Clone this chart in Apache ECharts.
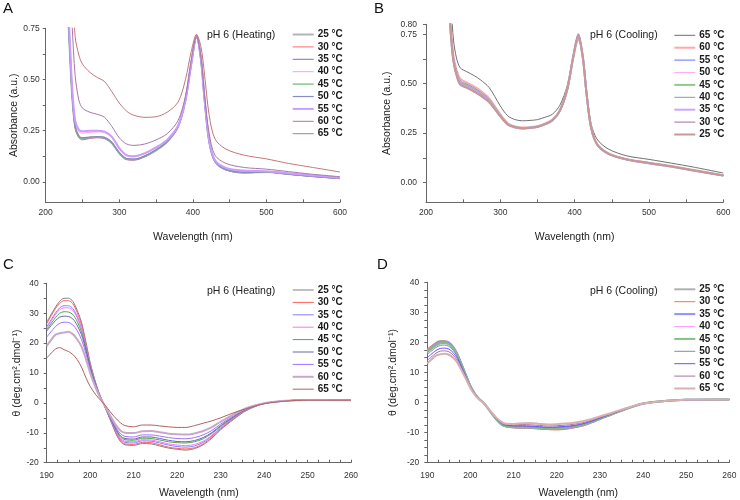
<!DOCTYPE html>
<html><head><meta charset="utf-8">
<script src="https://cdn.jsdelivr.net/npm/echarts@6/dist/echarts.min.js"></script>
<style>html,body{margin:0;padding:0;background:#fff}#c{width:740px;height:500px}</style>
</head><body><div id="c"></div>
<script>
// ---------- DATA ----------
const heatTemps = ['25 °C','30 °C','35 °C','40 °C','45 °C','50 °C','55 °C','60 °C','65 °C'];
const coolTemps = ['65 °C','60 °C','55 °C','50 °C','45 °C','40 °C','35 °C','30 °C','25 °C'];
const absXTicks = [200, 300, 400, 500, 600];
const absYTicksA = [0, 0.25, 0.5, 0.75];
const absYTicksB = [0, 0.25, 0.5, 0.75, 0.8];
const cdXTicks = [190, 200, 210, 220, 230, 240, 250, 260];
const cdYTicks = [-20, -10, 0, 10, 20, 30, 40];

// Panel A: absorbance, heating
const absHeatX = [230, 233, 236, 240, 245, 250, 260, 270, 280, 290, 300, 310, 320, 335, 350, 365, 380, 390, 398, 405, 411, 416, 422, 430, 445, 470, 500, 530, 560, 600];
const absHeat25 = [0.85, 0.62, 0.42, 0.27, 0.222, 0.212, 0.216, 0.218, 0.214, 0.19, 0.14, 0.11, 0.108, 0.125, 0.155, 0.195, 0.27, 0.40, 0.58, 0.715, 0.60, 0.40, 0.20, 0.10, 0.06, 0.045, 0.048, 0.038, 0.028, 0.017];
const absHeat30 = [0.85, 0.62, 0.42, 0.265, 0.215, 0.205, 0.212, 0.216, 0.212, 0.188, 0.139, 0.109, 0.107, 0.124, 0.154, 0.194, 0.27, 0.40, 0.58, 0.72, 0.60, 0.40, 0.20, 0.10, 0.06, 0.045, 0.048, 0.038, 0.028, 0.017];
const absHeat35 = [0.85, 0.62, 0.42, 0.268, 0.22, 0.21, 0.215, 0.217, 0.213, 0.189, 0.139, 0.11, 0.108, 0.124, 0.155, 0.195, 0.27, 0.40, 0.58, 0.705, 0.595, 0.40, 0.20, 0.10, 0.058, 0.044, 0.047, 0.037, 0.027, 0.016];
const absHeat40 = [0.88, 0.65, 0.45, 0.29, 0.245, 0.238, 0.242, 0.244, 0.24, 0.215, 0.16, 0.127, 0.122, 0.138, 0.166, 0.203, 0.275, 0.40, 0.58, 0.71, 0.60, 0.40, 0.205, 0.105, 0.065, 0.052, 0.05, 0.04, 0.03, 0.019];
const absHeat45 = [0.85, 0.62, 0.42, 0.27, 0.222, 0.213, 0.217, 0.219, 0.215, 0.19, 0.141, 0.111, 0.109, 0.126, 0.152, 0.195, 0.27, 0.40, 0.58, 0.71, 0.60, 0.40, 0.20, 0.10, 0.06, 0.046, 0.048, 0.038, 0.028, 0.017];
const absHeat50 = [0.86, 0.63, 0.43, 0.272, 0.224, 0.215, 0.219, 0.221, 0.217, 0.192, 0.143, 0.113, 0.111, 0.127, 0.157, 0.197, 0.272, 0.40, 0.58, 0.71, 0.60, 0.40, 0.20, 0.10, 0.06, 0.046, 0.048, 0.038, 0.028, 0.017];
const absHeat55 = [0.9, 0.68, 0.46, 0.30, 0.255, 0.247, 0.249, 0.25, 0.245, 0.22, 0.165, 0.13, 0.125, 0.14, 0.168, 0.205, 0.275, 0.40, 0.58, 0.71, 0.60, 0.40, 0.205, 0.106, 0.068, 0.055, 0.052, 0.042, 0.032, 0.02];
const absHeat60 = [1.2, 1.0, 0.76, 0.52, 0.40, 0.36, 0.34, 0.33, 0.315, 0.27, 0.215, 0.185, 0.178, 0.185, 0.205, 0.235, 0.30, 0.42, 0.60, 0.71, 0.61, 0.42, 0.24, 0.13, 0.09, 0.07, 0.062, 0.05, 0.038, 0.025];
const absHeat65 = [1.5, 1.3, 1.0, 0.71, 0.62, 0.575, 0.535, 0.51, 0.49, 0.44, 0.385, 0.345, 0.325, 0.315, 0.318, 0.34, 0.39, 0.50, 0.64, 0.72, 0.66, 0.52, 0.33, 0.21, 0.16, 0.13, 0.112, 0.09, 0.072, 0.048];

// Panel B: absorbance, cooling
const absCoolX = [232, 234, 237, 241, 246, 255, 265, 273, 285, 300, 310, 320, 330, 340, 350, 360, 370, 380, 390, 398, 405, 411, 416, 422, 430, 445, 470, 500, 530, 560, 600];
const absCool65 = [1.0, 0.88, 0.72, 0.63, 0.58, 0.56, 0.54, 0.52, 0.48, 0.387, 0.337, 0.318, 0.312, 0.314, 0.318, 0.33, 0.345, 0.39, 0.49, 0.64, 0.72, 0.64, 0.47, 0.30, 0.22, 0.17, 0.135, 0.117, 0.098, 0.078, 0.048];
const absCool60 = [0.86, 0.75, 0.64, 0.57, 0.525, 0.505, 0.485, 0.465, 0.425, 0.345, 0.3, 0.284, 0.278, 0.28, 0.285, 0.298, 0.318, 0.365, 0.47, 0.63, 0.725, 0.63, 0.45, 0.28, 0.195, 0.148, 0.118, 0.1, 0.083, 0.063, 0.037];
const absCool55 = [0.85, 0.74, 0.63, 0.565, 0.515, 0.497, 0.477, 0.457, 0.42, 0.342, 0.298, 0.282, 0.276, 0.279, 0.284, 0.297, 0.317, 0.364, 0.47, 0.63, 0.73, 0.63, 0.45, 0.28, 0.195, 0.147, 0.117, 0.099, 0.082, 0.062, 0.036];
const absCool50 = [0.85, 0.74, 0.63, 0.56, 0.512, 0.493, 0.474, 0.454, 0.418, 0.34, 0.297, 0.282, 0.276, 0.279, 0.284, 0.297, 0.317, 0.364, 0.47, 0.63, 0.735, 0.63, 0.45, 0.28, 0.195, 0.147, 0.117, 0.099, 0.082, 0.062, 0.036];
const absCool45 = [0.84, 0.73, 0.62, 0.555, 0.508, 0.49, 0.47, 0.45, 0.415, 0.338, 0.296, 0.281, 0.275, 0.278, 0.283, 0.296, 0.316, 0.363, 0.47, 0.63, 0.74, 0.63, 0.45, 0.28, 0.194, 0.147, 0.117, 0.099, 0.082, 0.062, 0.036];
const absCool40 = [0.84, 0.73, 0.62, 0.552, 0.505, 0.487, 0.467, 0.448, 0.413, 0.337, 0.295, 0.28, 0.275, 0.278, 0.283, 0.296, 0.316, 0.363, 0.47, 0.63, 0.74, 0.63, 0.45, 0.28, 0.194, 0.147, 0.117, 0.099, 0.082, 0.062, 0.036];
const absCool35 = [0.84, 0.72, 0.615, 0.548, 0.5, 0.483, 0.463, 0.445, 0.41, 0.336, 0.294, 0.279, 0.274, 0.277, 0.282, 0.295, 0.315, 0.362, 0.47, 0.635, 0.745, 0.635, 0.45, 0.28, 0.194, 0.146, 0.116, 0.098, 0.081, 0.061, 0.035];
const absCool30 = [0.83, 0.72, 0.61, 0.545, 0.497, 0.48, 0.46, 0.443, 0.408, 0.335, 0.294, 0.279, 0.274, 0.277, 0.282, 0.295, 0.315, 0.362, 0.47, 0.635, 0.75, 0.635, 0.45, 0.28, 0.194, 0.146, 0.116, 0.098, 0.081, 0.061, 0.035];
const absCool25 = [0.83, 0.72, 0.61, 0.543, 0.495, 0.478, 0.458, 0.44, 0.406, 0.334, 0.293, 0.278, 0.273, 0.276, 0.281, 0.294, 0.314, 0.361, 0.47, 0.635, 0.75, 0.635, 0.45, 0.28, 0.194, 0.146, 0.116, 0.098, 0.081, 0.061, 0.035];

// Panels C & D: circular dichroism
const cdX = [190, 192, 193, 194, 195, 196, 197, 198, 199, 200, 201, 202, 203, 204, 205, 206, 207, 208, 210, 212, 214, 216, 218, 220, 222, 224, 226, 228, 230, 233, 236, 240, 245, 250, 260];
const cdHeat25 = [27, 32, 34, 35, 35, 34, 31, 27, 20.5, 13.5, 8, 3.5, 0, -3.5, -7, -10.5, -13, -14, -14.2, -13.6, -13.7, -14.4, -15.1, -15.5, -15.8, -15.3, -14, -11.8, -9, -5.5, -2.5, -0.2, 0.7, 1, 0.9];
const cdHeat30 = [26.5, 31.5, 33.3, 34.2, 34.2, 33.2, 30.3, 26.3, 20, 13.2, 7.8, 3.4, 0, -3.4, -6.8, -10.2, -12.7, -13.7, -13.9, -13.2, -13.3, -14, -14.8, -15.2, -15.4, -15, -13.7, -11.5, -8.8, -5.3, -2.4, -0.2, 0.7, 1, 0.9];
const cdHeat35 = [25.5, 30, 31.8, 32.5, 32.5, 31.6, 29, 25.2, 19.3, 12.8, 7.6, 3.3, 0, -3.3, -6.6, -9.9, -12.3, -13.2, -13.4, -12.7, -12.8, -13.4, -14.1, -14.6, -14.8, -14.4, -13.2, -11.1, -8.5, -5.1, -2.3, -0.2, 0.7, 1, 0.9];
const cdHeat40 = [25, 29.5, 31.2, 31.8, 31.8, 31, 28.5, 24.8, 19, 12.6, 7.5, 3.2, 0, -3.2, -6.4, -9.6, -12, -12.8, -13, -12.3, -12.4, -13, -13.7, -14.1, -14.3, -13.9, -12.8, -10.8, -8.3, -5, -2.2, -0.2, 0.7, 1, 0.9];
const cdHeat45 = [24.5, 28.5, 30, 30.5, 30.4, 29.6, 27.3, 23.8, 18.4, 12.2, 7.3, 3.1, 0, -3.1, -6.2, -9.2, -11.5, -12.3, -12.5, -11.8, -11.9, -12.4, -13, -13.3, -13.4, -13, -12, -10.2, -7.9, -4.8, -2.1, -0.2, 0.7, 1, 0.9];
const cdHeat50 = [24, 27.5, 28.7, 29, 28.9, 28.1, 26, 22.8, 17.7, 11.8, 7.1, 3, 0, -3, -6, -8.9, -11.1, -11.9, -12.1, -11.4, -11.4, -11.9, -12.5, -12.9, -13, -12.6, -11.6, -9.9, -7.6, -4.6, -2, -0.2, 0.7, 1, 0.9];
const cdHeat55 = [22, 25.5, 26.6, 27, 26.9, 26.1, 24.2, 21.2, 16.6, 11.1, 6.7, 2.9, 0, -2.9, -5.7, -8.4, -10.4, -11.2, -11.4, -10.7, -10.7, -11.1, -11.6, -11.9, -12, -11.6, -10.7, -9.2, -7.1, -4.3, -1.9, -0.2, 0.7, 1, 0.9];
const cdHeat60 = [19, 22.8, 23.3, 23.5, 23.8, 23, 21.3, 18.8, 14.8, 10, 6, 2.6, 0, -2.6, -5.2, -7.6, -9.3, -10, -10.1, -9.5, -9.4, -9.8, -10.3, -10.5, -10.6, -10.2, -9.4, -8.1, -6.3, -3.8, -1.7, -0.1, 0.7, 1, 0.9];
const cdHeat65 = [15, 18, 18.5, 17.8, 17.2, 16.2, 14.5, 12, 8.5, 5.5, 3.3, 1.5, 0, -1.8, -3.7, -5.3, -6.7, -7.6, -8, -7.4, -7.4, -7.7, -8, -8.2, -8.2, -7.6, -6.8, -6, -5, -3.3, -1.9, -0.3, 0.6, 0.9, 0.9];

const cdCool25 = [17.5, 19.8, 20.5, 20.5, 20, 18.5, 16, 12.5, 9, 5.5, 3, 1.2, 0, -1.8, -3.8, -5.6, -7, -7.8, -8.2, -8.3, -8.4, -8.6, -8.8, -8.8, -8.6, -8.2, -7.6, -6.6, -5.5, -3.8, -2.2, -0.4, 0.5, 0.9, 1];
const cdCool30 = [17.8, 19.9, 20.4, 20.4, 20, 18.6, 16.2, 12.7, 9.1, 5.6, 3, 1.2, 0, -1.9, -3.9, -5.8, -7.2, -8, -8.4, -8.5, -8.6, -8.8, -9, -9.1, -8.9, -8.4, -7.8, -6.8, -5.6, -3.9, -2.2, -0.4, 0.5, 0.9, 1];
const cdCool35 = [17, 19.4, 20.1, 20.2, 19.8, 18.4, 16, 12.5, 9, 5.5, 3, 1.2, 0, -1.8, -3.8, -5.6, -7, -7.8, -8.1, -8.2, -8.3, -8.5, -8.7, -8.7, -8.5, -8.1, -7.5, -6.5, -5.4, -3.7, -2.1, -0.4, 0.5, 0.9, 1];
const cdCool40 = [16.5, 18.8, 19.5, 19.6, 19.2, 17.9, 15.6, 12.2, 8.8, 5.4, 2.9, 1.2, 0, -1.8, -3.7, -5.5, -6.8, -7.6, -7.9, -7.9, -8, -8.2, -8.4, -8.4, -8.2, -7.9, -7.3, -6.4, -5.3, -3.7, -2.1, -0.4, 0.5, 0.9, 1];
const cdCool45 = [16.8, 19, 19.7, 19.8, 19.4, 18, 15.7, 12.3, 8.8, 5.4, 2.9, 1.2, 0, -1.8, -3.8, -5.6, -7, -7.8, -8.2, -8.2, -8.3, -8.5, -8.7, -8.6, -8.4, -8, -7.4, -6.5, -5.4, -3.7, -2.1, -0.3, 0.5, 0.9, 1];
const cdCool50 = [16, 18.3, 19, 19.1, 18.7, 17.4, 15.2, 11.9, 8.6, 5.3, 2.9, 1.1, 0, -1.8, -3.7, -5.4, -6.8, -7.6, -7.9, -7.9, -8, -8.2, -8.4, -8.3, -8.1, -7.8, -7.2, -6.3, -5.2, -3.6, -2.1, -0.3, 0.5, 0.9, 1];
const cdCool55 = [15, 17.3, 18, 18.1, 17.8, 16.6, 14.6, 11.5, 8.3, 5.1, 2.8, 1.1, 0, -1.8, -3.6, -5.3, -6.6, -7.4, -7.7, -7.7, -7.8, -8, -8.2, -8.1, -7.9, -7.6, -7, -6.2, -5.1, -3.6, -2, -0.3, 0.5, 0.9, 1];
const cdCool60 = [14, 16.4, 17.1, 17.2, 16.9, 15.8, 13.9, 11, 8, 5, 2.7, 1.1, 0, -1.7, -3.5, -5.1, -6.4, -7.2, -7.4, -7.3, -7.4, -7.6, -7.8, -7.7, -7.5, -7.2, -6.7, -5.9, -4.9, -3.5, -2, -0.3, 0.5, 0.9, 1];
const cdCool65 = [13, 15.6, 16.1, 16.2, 15.9, 14.9, 13.2, 10.5, 7.7, 4.8, 2.6, 1, 0, -1.7, -3.4, -5, -6.2, -7, -7.1, -6.9, -6.8, -7.1, -7.3, -7.2, -7, -6.7, -6.2, -5.5, -4.6, -3.3, -1.9, -0.3, 0.5, 0.9, 1];

// ---------- STYLES ----------
const styleA = [['#b4b4b4',2],['#ff6a6a',1],['#6a6aff',1],['#ff9cf0',1],['#8cc48c',1.5],['#8a8ac0',1.2],['#cc9cff',2],['#a878a8',1],['#c07878',1]];
const styleB = [['#707070',1],['#ffa8a8',2],['#6a6aff',1],['#ffb0f0',1],['#90c890',2],['#9090c0',1],['#c8a8ff',2],['#a070a0',1],['#c89898',2]];
const styleC = [['#808080',1],['#ff6060',1],['#8080ff',1],['#ff70ff',1],['#50a850',1],['#6868a8',1],['#a070ff',1],['#c8a8c8',2],['#b06060',1]];
const styleD = [['#b0b0b0',2],['#ff6868',1],['#9090ff',2],['#ffa0ff',1],['#80c080',2],['#8888b8',1],['#6a50ff',1],['#a870a8',1],['#d8b0b0',2]];

const panels = [
  {key:'A', x: absHeatX, names: heatTemps, ys:[absHeat25,absHeat30,absHeat35,absHeat40,absHeat45,absHeat50,absHeat55,absHeat60,absHeat65], style: styleA},
  {key:'B', x: absCoolX, names: coolTemps, ys:[absCool65,absCool60,absCool55,absCool50,absCool45,absCool40,absCool35,absCool30,absCool25], style: styleB},
  {key:'C', x: cdX, names: heatTemps, ys:[cdHeat25,cdHeat30,cdHeat35,cdHeat40,cdHeat45,cdHeat50,cdHeat55,cdHeat60,cdHeat65], style: styleC},
  {key:'D', x: cdX, names: heatTemps, ys:[cdCool25,cdCool30,cdCool35,cdCool40,cdCool45,cdCool50,cdCool55,cdCool60,cdCool65], style: styleD}
];

// ---------- LAYOUT ----------
const FONT = '"Liberation Sans", Arial, sans-serif';
const grids = [
  {left: 45.7, top: 28.3, right: 400, bottom: 297.7},
  {left: 426, top: 24.3, right: 16.7, bottom: 297.7},
  {left: 46.7, top: 283.3, right: 389, bottom: 37.3},
  {left: 427.3, top: 282.3, right: 10.7, bottom: 37.3}
];
function range(a, b, s){ const r=[]; for(let v=a; v<=b+1e-9; v+=s) r.push(+v.toFixed(4)); return r; }
const xTickSets = [range(200,600,50), range(200,600,50), range(190,260,2.5), range(190,260,2.5)];
const yTickSets = [range(0,0.75,0.125), range(0,0.75,0.125).concat([0.8]), range(-20,40,5), range(-20,40,2.5)];
const xLabelSets = [absXTicks, absXTicks, cdXTicks, cdXTicks];
const yLabelSets = [absYTicksA, absYTicksB, cdYTicks, cdYTicks];
const xMinMax = [[200,600],[200,600],[190,260],[190,260]];
const yMinMax = [[-0.1,0.75],[-0.1,0.8],[-20,40],[-20,40]];
const yNames = ['Absorbance (a.u.)','Absorbance (a.u.)','θ (deg.cm².dmol⁻¹)','θ (deg.cm².dmol⁻¹)'];
const yNameGaps = [23, 33, 22, 29];
const yLabelMargins = [6, 9, 8, 8];
const xNameGaps = [29, 29, 25, 25];
const xLabelMargins = [6, 6, 8, 8];
const axisColor = '#666';

const xAxis = [], yAxis = [], series = [], legend = [];
panels.forEach((p, i) => {
  xAxis.push({
    type:'value', gridIndex:i, min:xMinMax[i][0], max:xMinMax[i][1],
    name:'Wavelength (nm)', nameLocation:'middle', nameGap:xNameGaps[i],
    nameTextStyle:{fontFamily:FONT, fontSize:10.5, color:'#222'},
    axisLine:{show:true, onZero:false, lineStyle:{color:axisColor, width:1}},
    axisTick:{show:true, inside:true, length:3, customValues:xTickSets[i], lineStyle:{color:axisColor}},
    axisLabel:{show:true, customValues:xLabelSets[i], margin:xLabelMargins[i], fontFamily:FONT, fontSize:8.5, color:'#333'},
    splitLine:{show:false}
  });
  const dec = i < 2;
  yAxis.push({
    type:'value', gridIndex:i, min:yMinMax[i][0], max:yMinMax[i][1],
    name:yNames[i], nameLocation:'middle', nameGap:yNameGaps[i], nameRotate:90,
    nameTextStyle:{fontFamily:FONT, fontSize:10.5, color:'#222'},
    axisLine:{show:true, onZero:false, lineStyle:{color:axisColor, width:1}},
    axisTick:{show:true, inside:false, length:3, customValues:yTickSets[i], lineStyle:{color:axisColor}},
    axisLabel:{show:true, customValues:yLabelSets[i], margin:yLabelMargins[i], fontFamily:FONT, fontSize:8.5, color:'#333',
      formatter: v => dec ? Number(v).toFixed(2) : String(Math.round(v))},
    splitLine:{show:false}
  });
  const legendItems = [];
  p.ys.forEach((ys, k) => {
    const nm = p.key + '|' + p.names[k];
    legendItems.push({name:nm, itemStyle:{opacity:0, borderWidth:0}, lineStyle:{color:p.style[k][0], width:p.style[k][1]}});
    series.push({
      type:'line', name:nm, xAxisIndex:i, yAxisIndex:i,
      data: p.x.map((xv, j) => [xv, ys[j]]),
      symbol:'none', showSymbol:false, smooth:0.3, clip:true, silent:true,
      lineStyle:{color:p.style[k][0], width:p.style[k][1]},
      itemStyle:{color:p.style[k][0]}
    });
  });
  const legLeft = (i % 2 === 0) ? 291.7 : 673.3;
  const legTop = [29.5, 30.3, 285, 284.3][i];
  legend.push({
    data: legendItems, orient:'vertical', left:legLeft, top:legTop, padding:0,
    itemWidth:21, itemHeight:8, itemGap:2.4, selectedMode:false,
    itemStyle:{opacity:0, borderWidth:0},
    formatter: n => n.split('|')[1],
    textStyle:{fontFamily:FONT, fontSize:10, fontWeight:'bold', color:'#1a1a1a', padding:[0,0,0,-1]}
  });
});

const graphic = [
  {type:'text', left:3, top:1, style:{text:'A', font:'15px '+FONT, fill:'#111'}},
  {type:'text', left:374, top:1, style:{text:'B', font:'15px '+FONT, fill:'#111'}},
  {type:'text', left:3, top:257, style:{text:'C', font:'15px '+FONT, fill:'#111'}},
  {type:'text', left:377, top:257, style:{text:'D', font:'15px '+FONT, fill:'#111'}},
  {type:'text', left:207, top:30, style:{text:'pH 6 (Heating)', font:'10.5px '+FONT, fill:'#222'}},
  {type:'text', left:590, top:30, style:{text:'pH 6 (Cooling)', font:'10.5px '+FONT, fill:'#222'}},
  {type:'text', left:207, top:286, style:{text:'pH 6 (Heating)', font:'10.5px '+FONT, fill:'#222'}},
  {type:'text', left:590, top:286, style:{text:'pH 6 (Cooling)', font:'10.5px '+FONT, fill:'#222'}}
];

const chart = echarts.init(document.getElementById('c'), null, {renderer:'canvas'});
chart.setOption({
  animation:false, backgroundColor:'#fff',
  grid: grids, xAxis, yAxis, series, legend, graphic
});
</script></body></html>
